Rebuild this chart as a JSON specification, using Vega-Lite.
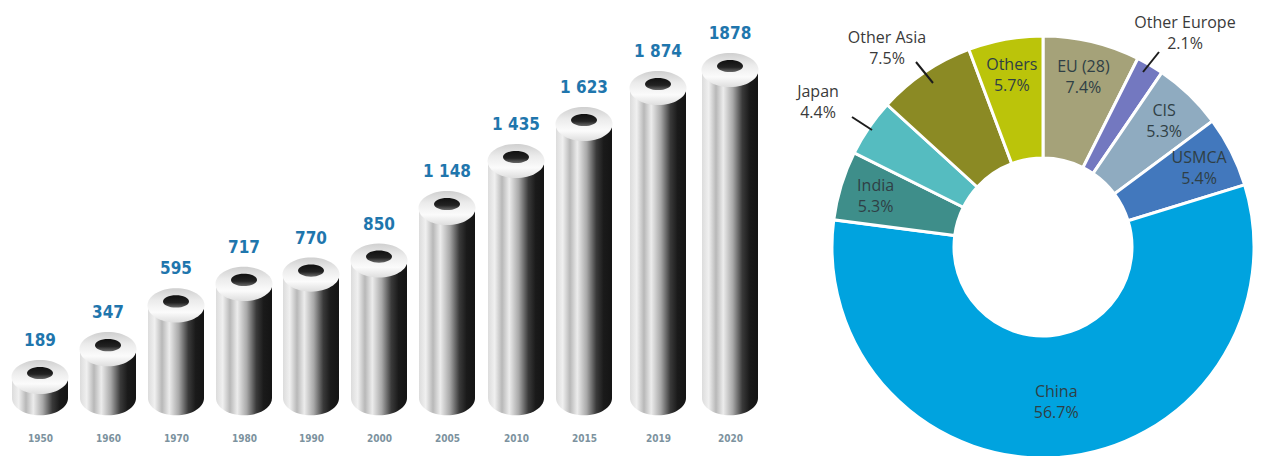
{
  "$schema": "https://vega.github.io/schema/vega-lite/v6.json",
  "width": 1263,
  "height": 456,
  "padding": 0,
  "autosize": {"type": "none"},
  "background": "white",
  "config": {"view": {"stroke": null}},
  "datasets": {
    "output": [
      {"year": 1950, "mt": 189, "shown": "189"},
      {"year": 1960, "mt": 347, "shown": "347"},
      {"year": 1970, "mt": 595, "shown": "595"},
      {"year": 1980, "mt": 717, "shown": "717"},
      {"year": 1990, "mt": 770, "shown": "770"},
      {"year": 2000, "mt": 850, "shown": "850"},
      {"year": 2005, "mt": 1148, "shown": "1 148"},
      {"year": 2010, "mt": 1435, "shown": "1 435"},
      {"year": 2015, "mt": 1623, "shown": "1 623"},
      {"year": 2019, "mt": 1874, "shown": "1 874"},
      {"year": 2020, "mt": 1878, "shown": "1878"}
    ],
    "shares": [
      {"ord": 1, "region": "EU (28)", "share": 7.4, "inside": "EU (28)\n7.4%"},
      {"ord": 2, "region": "Other Europe", "share": 2.1, "inside": ""},
      {"ord": 3, "region": "CIS", "share": 5.3, "inside": "CIS\n5.3%"},
      {"ord": 4, "region": "USMCA", "share": 5.4, "inside": "USMCA\n5.4%"},
      {"ord": 5, "region": "China", "share": 56.7, "inside": "China\n56.7%"},
      {"ord": 6, "region": "India", "share": 5.3, "inside": "India\n5.3%"},
      {"ord": 7, "region": "Japan", "share": 4.4, "inside": ""},
      {"ord": 8, "region": "Other Asia", "share": 7.5, "inside": ""},
      {"ord": 9, "region": "Others", "share": 5.7, "inside": "Others\n5.7%"}
    ],
    "callouts": [
      {"region": "Japan", "text": "Japan\n4.4%", "tx": -225, "ty": 145, "ax": -191, "ay": 130, "bx": -171, "by": 117},
      {"region": "Other Asia", "text": "Other Asia\n7.5%", "tx": -156, "ty": 199, "ax": -127, "ay": 185, "bx": -110, "by": 164},
      {"region": "Other Europe", "text": "Other Europe\n2.1%", "tx": 142, "ty": 214, "ax": 116, "ay": 195, "bx": 100, "by": 175}
    ]
  },
  "resolve": {"scale": {"x": "independent", "y": "independent"}},
  "layer": [
    {
      "data": {"name": "output"},
      "encoding": {
        "x": {
          "field": "year",
          "type": "quantitative",
          "scale": {
            "domain": [1950, 1960, 1970, 1980, 1990, 2000, 2005, 2010, 2015, 2019, 2020],
            "range": [40, 108, 176, 244, 311, 379, 447, 516, 584, 658, 730],
            "padding": 0,
            "nice": false,
            "zero": false
          },
          "axis": {
            "title": null,
            "orient": "bottom",
            "offset": -23,
            "values": [1950, 1960, 1970, 1980, 1990, 2000, 2005, 2010, 2015, 2019, 2020],
            "format": "d",
            "domain": false,
            "ticks": false,
            "grid": false,
            "labelAngle": 0,
            "labelPadding": 0,
            "labelFlush": false,
            "labelOverlap": false,
            "labelFont": "DejaVu Sans Condensed, Roboto",
            "labelFontSize": 10,
            "labelFontWeight": "bold",
            "labelColor": "#7c929e"
          }
        },
        "y": {
          "field": "mt",
          "type": "quantitative",
          "stack": null,
          "scale": {
            "domain": [0, 189, 1148, 1435, 1623, 1874, 1878],
            "range": [398, 377, 208, 161, 124, 88, 70],
            "nice": false,
            "zero": false
          },
          "axis": null
        }
      },
      "layer": [
        {
          "mark": {
            "type": "bar",
            "orient": "vertical",
            "size": 56,
            "fill": {
              "gradient": "linear", "x1": 0, "x2": 1, "y1": 0, "y2": 0,
              "stops": [
                {"offset": 0, "color": "#dcdcdc"},
                {"offset": 0.12, "color": "#f0f0f0"},
                {"offset": 0.25, "color": "#b8b8b8"},
                {"offset": 0.38, "color": "#ececec"},
                {"offset": 0.55, "color": "#a8a8a8"},
                {"offset": 0.72, "color": "#3a3a3a"},
                {"offset": 0.85, "color": "#1a1a1a"},
                {"offset": 1, "color": "#141414"}
              ]
            }
          }
        },
        {
          "mark": {
            "type": "point",
            "filled": true,
            "opacity": 1,
            "size": 3136,
            "shape": "M-1,0A1,0.62,0,1,1,1,0A1,0.62,0,1,1,-1,0Z",
            "fill": {
              "gradient": "linear", "x1": 0, "x2": 1, "y1": 0, "y2": 0,
              "stops": [
                {"offset": 0, "color": "#dcdcdc"},
                {"offset": 0.12, "color": "#f0f0f0"},
                {"offset": 0.25, "color": "#b8b8b8"},
                {"offset": 0.38, "color": "#ececec"},
                {"offset": 0.55, "color": "#a8a8a8"},
                {"offset": 0.72, "color": "#3a3a3a"},
                {"offset": 0.85, "color": "#1a1a1a"},
                {"offset": 1, "color": "#141414"}
              ]
            }
          },
          "encoding": {"y": {"datum": 0, "type": "quantitative"}}
        },
        {
          "mark": {
            "type": "point",
            "filled": true,
            "opacity": 1,
            "size": 3249,
            "shape": "M-1,0A1,0.6,0,1,1,1,0A1,0.6,0,1,1,-1,0Z",
            "fill": {
              "gradient": "linear", "x1": 0, "x2": 0, "y1": 0, "y2": 1,
              "stops": [
                {"offset": 0, "color": "#cfcfcf"},
                {"offset": 0.35, "color": "#ebebeb"},
                {"offset": 0.7, "color": "#fbfbfb"},
                {"offset": 1, "color": "#dedede"}
              ]
            }
          }
        },
        {
          "mark": {
            "type": "point",
            "filled": true,
            "opacity": 1,
            "size": 676,
            "yOffset": -4,
            "shape": "M-1,0A1,0.47,0,1,1,1,0A1,0.47,0,1,1,-1,0Z",
            "fill": {
              "gradient": "linear", "x1": 0, "x2": 0, "y1": 0, "y2": 1,
              "stops": [
                {"offset": 0, "color": "#101010"},
                {"offset": 0.6, "color": "#222222"},
                {"offset": 1, "color": "#6a6a6a"}
              ]
            }
          }
        },
        {
          "mark": {
            "type": "text",
            "dy": -36,
            "font": "DejaVu Sans Condensed, Roboto",
            "fontSize": 17,
            "fontWeight": "bold",
            "color": "#1f76ad",
            "baseline": "middle"
          },
          "encoding": {"text": {"field": "shown", "type": "nominal"}}
        }
      ]
    },
    {
      "layer": [
        {
          "data": {"name": "shares"},
          "mark": {"type": "arc", "radius": 211, "radius2": 89, "stroke": "white", "strokeWidth": 3},
          "encoding": {
            "x": {"datum": 0, "type": "quantitative", "scale": {"domain": [-1043, 220], "nice": false, "zero": false}, "axis": null},
            "y": {"datum": 0, "type": "quantitative", "scale": {"domain": [-209, 247], "nice": false, "zero": false}, "axis": null},
            "theta": {"field": "share", "type": "quantitative", "stack": true},
            "order": {"field": "ord", "type": "ordinal"},
            "color": {
              "field": "region",
              "type": "nominal",
              "legend": null,
              "scale": {
                "domain": ["EU (28)", "Other Europe", "CIS", "USMCA", "China", "India", "Japan", "Other Asia", "Others"],
                "range": ["#a5a279", "#7378c0", "#8fabc0", "#4278bd", "#00a3df", "#3e8e8a", "#55bcc0", "#8b8a24", "#bbc40a"]
              }
            }
          }
        },
        {
          "data": {"name": "shares"},
          "transform": [
            {"stack": "share", "sort": [{"field": "ord", "order": "ascending"}], "as": ["slice_start", "slice_end"]},
            {"calculate": "(datum.slice_start + datum.slice_end) / 2", "as": "slice_mid"}
          ],
          "mark": {
            "type": "text",
            "font": "Open Sans",
            "fontSize": 16,
            "lineBreak": "\n",
            "lineHeight": 21,
            "dy": -10,
            "color": "#2f3f45"
          },
          "encoding": {
            "x": {"datum": 0, "type": "quantitative", "scale": {"domain": [-1043, 220], "nice": false, "zero": false}, "axis": null},
            "y": {"datum": 0, "type": "quantitative", "scale": {"domain": [-209, 247], "nice": false, "zero": false}, "axis": null},
            "theta": {"field": "slice_mid", "type": "quantitative", "stack": null},
            "radius": {
              "field": "share",
              "type": "quantitative",
              "stack": null,
              "scale": {"domain": [2.1, 7.5, 56.7], "range": [175, 175, 156], "nice": false, "zero": false}
            },
            "text": {"field": "inside", "type": "nominal"}
          }
        },
        {
          "data": {"name": "callouts"},
          "mark": {"type": "rule", "color": "#1c1c1c", "strokeWidth": 2},
          "encoding": {
            "x": {"field": "ax", "type": "quantitative", "scale": {"domain": [-1043, 220], "nice": false, "zero": false}, "axis": null},
            "y": {"field": "ay", "type": "quantitative", "scale": {"domain": [-209, 247], "nice": false, "zero": false}, "axis": null},
            "x2": {"field": "bx"},
            "y2": {"field": "by"}
          }
        },
        {
          "data": {"name": "callouts"},
          "mark": {
            "type": "text",
            "font": "Open Sans",
            "fontSize": 16,
            "lineBreak": "\n",
            "lineHeight": 21,
            "dy": -10,
            "color": "#3a3a3a"
          },
          "encoding": {
            "x": {"field": "tx", "type": "quantitative", "scale": {"domain": [-1043, 220], "nice": false, "zero": false}, "axis": null},
            "y": {"field": "ty", "type": "quantitative", "scale": {"domain": [-209, 247], "nice": false, "zero": false}, "axis": null},
            "text": {"field": "text", "type": "nominal"}
          }
        }
      ]
    }
  ]
}
